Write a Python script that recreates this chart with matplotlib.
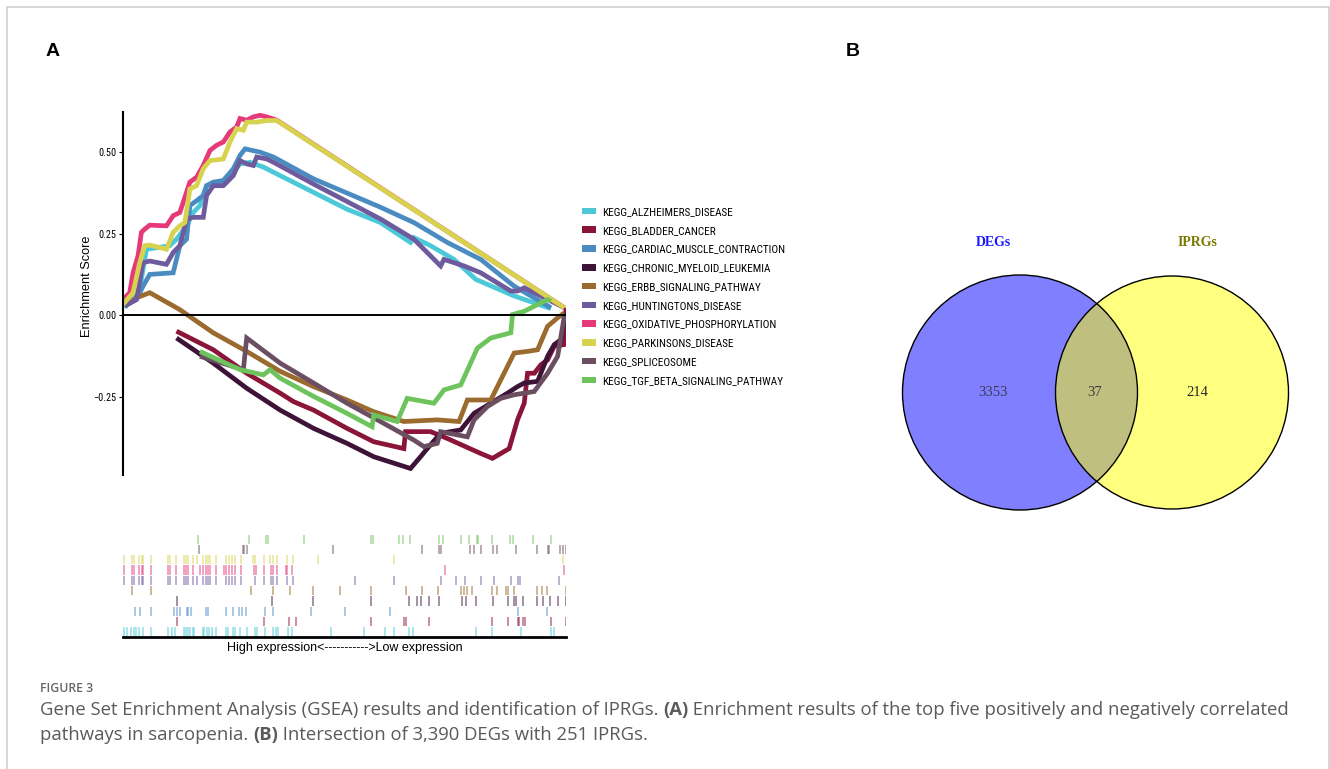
import matplotlib
matplotlib.use("Agg")
import matplotlib.pyplot as plt
from matplotlib import font_manager
from matplotlib.font_manager import FontProperties
from matplotlib.patches import Patch, Circle, Rectangle

W, H = 1330, 769

SANS = "Liberation Sans"
SERIF = "Liberation Serif"
CAPTION = "Open Sans"


def pick_narrow():
    # a condensed regular face if one is installed, else plain Liberation Sans
    faces = font_manager.fontManager.ttflist
    prefs = ["Liberation Sans Narrow", "Roboto Condensed", "Open Sans Condensed",
             "Noto Sans", "DejaVu Sans", "Roboto", "Open Sans"]
    for name in prefs:
        for f in faces:
            if f.name == name and f.style == "normal" and f.weight in (400, "normal", "regular") \
                    and (f.stretch in ("condensed", "semi-condensed") or name.endswith(("Narrow", "Condensed"))):
                return FontProperties(fname=f.fname)
    return FontProperties(family=SANS)


NARROW_FP = pick_narrow()

# --- GSEA running enrichment score curves (rank position, ES) ---
pathways = [
    "KEGG_ALZHEIMERS_DISEASE", "KEGG_BLADDER_CANCER", "KEGG_CARDIAC_MUSCLE_CONTRACTION",
    "KEGG_CHRONIC_MYELOID_LEUKEMIA", "KEGG_ERBB_SIGNALING_PATHWAY", "KEGG_HUNTINGTONS_DISEASE",
    "KEGG_OXIDATIVE_PHOSPHORYLATION", "KEGG_PARKINSONS_DISEASE", "KEGG_SPLICEOSOME",
    "KEGG_TGF_BETA_SIGNALING_PATHWAY",
]
colors = ["#4CC9D9", "#8B1538", "#4A8CC2", "#3D1438", "#9A6A2E",
          "#6E5B9E", "#E5397A", "#D8D34E", "#6B4E62", "#6DC45C"]
N_RANKED = 1325

alz_x = [5, 50, 70, 140, 160, 190, 210, 230, 250, 300, 330, 350, 380, 420, 470, 670, 770,
         860, 870, 920, 990, 1055, 1170, 1280]
alz_y = [0.023, 0.079, 0.202, 0.213, 0.233, 0.274, 0.315, 0.336, 0.397, 0.408, 0.438, 0.464,
         0.469, 0.454, 0.428, 0.325, 0.284, 0.223, 0.238, 0.213, 0.171, 0.110, 0.059, 0.020]
bla_x = [160, 270, 370, 470, 510, 570, 670, 750, 840, 845, 920, 970, 1070, 1105, 1155, 1180,
         1200, 1210, 1230, 1250, 1270, 1290, 1320, 1325]
bla_y = [-0.049, -0.106, -0.178, -0.239, -0.265, -0.291, -0.347, -0.388, -0.409, -0.357,
         -0.357, -0.378, -0.424, -0.439, -0.409, -0.321, -0.270, -0.178, -0.178, -0.152,
         -0.137, -0.095, -0.090, 0.023]
car_x = [5, 40, 60, 80, 150, 170, 190, 200, 220, 240, 250, 270, 300, 330, 350, 365, 410, 450,
         570, 770, 870, 970, 1070, 1170, 1220, 1280]
car_y = [0.028, 0.048, 0.089, 0.125, 0.130, 0.213, 0.233, 0.336, 0.351, 0.367, 0.397, 0.408,
         0.413, 0.449, 0.490, 0.510, 0.500, 0.485, 0.418, 0.331, 0.284, 0.223, 0.171, 0.089,
         0.059, 0.023]
cml_x = [160, 270, 370, 470, 570, 670, 750, 860, 890, 910, 950, 1010, 1050, 1100, 1150, 1180,
         1200, 1240, 1270, 1290, 1310, 1325]
cml_y = [-0.070, -0.147, -0.224, -0.291, -0.347, -0.393, -0.434, -0.470, -0.434, -0.409,
         -0.362, -0.352, -0.301, -0.270, -0.239, -0.219, -0.208, -0.203, -0.126, -0.090,
         -0.075, 0.007]
erb_x = [5, 40, 80, 170, 270, 370, 470, 570, 670, 750, 840, 940, 1005, 1030, 1060, 1100, 1130,
         1170, 1210, 1240, 1270, 1300, 1320]
erb_y = [0.028, 0.053, 0.069, 0.017, -0.054, -0.111, -0.172, -0.219, -0.260, -0.296, -0.326,
         -0.321, -0.326, -0.260, -0.260, -0.260, -0.198, -0.116, -0.111, -0.106, -0.034,
         -0.008, 0.007]
hun_x = [5, 40, 60, 80, 130, 150, 170, 190, 210, 240, 250, 270, 300, 330, 350, 370, 390, 400,
         430, 450, 570, 770, 870, 950, 960, 1020, 1070, 1160, 1180, 1200, 1320]
hun_y = [0.028, 0.048, 0.161, 0.166, 0.156, 0.192, 0.213, 0.295, 0.300, 0.300, 0.367, 0.397,
         0.397, 0.428, 0.474, 0.464, 0.459, 0.485, 0.479, 0.469, 0.402, 0.295, 0.233, 0.151,
         0.171, 0.151, 0.130, 0.074, 0.074, 0.084, 0.023]
oxp_x = [0, 20, 30, 45, 55, 65, 80, 130, 150, 170, 180, 200, 220, 240, 260, 280, 300, 320, 340,
         350, 370, 390, 410, 430, 460, 1320]
oxp_y = [0.048, 0.069, 0.130, 0.182, 0.254, 0.264, 0.276, 0.274, 0.305, 0.315, 0.346, 0.408,
         0.423, 0.459, 0.505, 0.521, 0.531, 0.562, 0.577, 0.603, 0.598, 0.608, 0.613, 0.608,
         0.598, 0.023]
par_x = [0, 30, 50, 65, 80, 130, 150, 170, 185, 200, 220, 240, 260, 300, 320, 340, 360, 370,
         400, 430, 460, 1320]
par_y = [0.033, 0.069, 0.161, 0.213, 0.215, 0.202, 0.254, 0.274, 0.284, 0.387, 0.397, 0.449,
         0.474, 0.479, 0.531, 0.572, 0.567, 0.592, 0.592, 0.597, 0.597, 0.023]
spl_x = [230, 360, 370, 470, 570, 670, 770, 870, 900, 940, 950, 1030, 1050, 1090, 1130, 1170,
         1230, 1270, 1300, 1320]
spl_y = [-0.126, -0.167, -0.070, -0.147, -0.208, -0.270, -0.326, -0.383, -0.403, -0.393,
         -0.357, -0.373, -0.321, -0.280, -0.255, -0.244, -0.234, -0.178, -0.126, -0.003]
tgf_x = [230, 350, 420, 440, 470, 570, 670, 745, 750, 820, 850, 930, 960, 1010, 1060, 1100,
         1160, 1165, 1200, 1270, 1280]
tgf_y = [-0.111, -0.167, -0.183, -0.167, -0.193, -0.249, -0.301, -0.342, -0.306, -0.326,
         -0.255, -0.270, -0.229, -0.214, -0.101, -0.070, -0.054, 0.002, 0.012, 0.048, 0.043]

curves_x = [alz_x, bla_x, car_x, cml_x, erb_x, hun_x, oxp_x, par_x, spl_x, tgf_x]
curves_y = [alz_y, bla_y, car_y, cml_y, erb_y, hun_y, oxp_y, par_y, spl_y, tgf_y]

# --- hit positions for the rug (top row first) ---
rug_order = [9, 8, 7, 6, 5, 4, 3, 2, 1, 0]
hits = {
    9: [223, 377, 427, 435, 540, 742, 747, 827, 837, 857, 945, 957, 1010, 1035, 1058, 1063,
        1105, 1158, 1165, 1225, 1280],
    8: [228, 358, 363, 370, 627, 895, 945, 952, 1037, 1050, 1070, 1107, 1120, 1175, 1237, 1270,
        1275, 1308, 1315, 1325],
    7: [2, 27, 33, 47, 57, 60, 85, 135, 142, 158, 183, 188, 195, 208, 220, 240, 248, 253, 260,
        277, 308, 318, 327, 335, 352, 390, 395, 423, 440, 448, 462, 492, 507, 582, 810, 1315],
    6: [3, 27, 33, 47, 57, 60, 85, 135, 142, 158, 183, 188, 195, 208, 230, 240, 248, 253, 260,
        277, 302, 308, 318, 327, 335, 352, 392, 397, 423, 442, 448, 462, 487, 492, 505, 963, 1320],
    5: [2, 27, 33, 47, 57, 60, 85, 135, 142, 158, 183, 188, 195, 208, 220, 240, 248, 253, 260,
        277, 308, 318, 327, 335, 352, 395, 423, 442, 448, 462, 492, 507, 693, 810, 950, 997,
        1022, 1070, 1110, 1160, 1180, 1188, 1305],
    4: [27, 85, 382, 448, 500, 568, 650, 742, 847, 895, 943, 1010, 1020, 1028, 1043, 1105, 1118,
        1145, 1152, 1170, 1238, 1252, 1268, 1325],
    3: [162, 447, 568, 742, 855, 880, 892, 915, 945, 1015, 1025, 1057, 1108, 1152, 1170, 1175,
        1195, 1238, 1255, 1278, 1302, 1325],
    2: [35, 50, 85, 152, 162, 170, 190, 195, 203, 248, 255, 308, 330, 348, 355, 367, 425, 450,
        562, 663, 798, 1180, 1268],
    1: [162, 422, 497, 517, 742, 840, 847, 915, 1105, 1152, 1180, 1185, 1195, 1203, 1280, 1325],
    0: [2, 13, 25, 33, 40, 48, 60, 85, 135, 147, 155, 183, 188, 193, 200, 208, 213, 238, 243,
        250, 258, 265, 277, 308, 313, 328, 335, 350, 370, 395, 400, 425, 450, 458, 465, 495,
        505, 623, 720, 783, 810, 855, 867, 1057, 1105, 1190, 1280, 1290],
}

# --- Venn counts ---
venn_sets = ["DEGs", "IPRGs"]
venn_counts = [3353, 37, 214]  # DEGs only, both, IPRGs only

caption_1 = [
    ("Gene Set Enrichment Analysis (GSEA) results and identification of IPRGs. ", "normal"),
    ("(A)", "bold"),
    (" Enrichment results of the top five positively and negatively correlated", "normal"),
]
caption_2 = [
    ("pathways in sarcopenia. ", "normal"),
    ("(B)", "bold"),
    (" Intersection of 3,390 DEGs with 251 IPRGs.", "normal"),
]


def fx(px):
    return px / W


def fy(py):
    return 1 - py / H


fig = plt.figure(figsize=(W / 100, H / 100), dpi=100)
renderer = fig.canvas.get_renderer()


def text_width(s, fp):
    t = fig.text(0, 0, s, fontproperties=fp)
    w = t.get_window_extent(renderer).width
    t.remove()
    return w


def fit_fp(base_fp, sample, target_px, size0=8.0):
    fp = base_fp.copy()
    fp.set_size(size0)
    fp.set_size(size0 * target_px / text_width(sample, fp))
    return fp


legend_fp = fit_fp(NARROW_FP, "KEGG_CARDIAC_MUSCLE_CONTRACTION", 184)
tick_fp = fit_fp(NARROW_FP, "0.50", 18)

# outer frame
fig.add_artist(Rectangle((fx(7), fy(790)), fx(1329) - fx(7), fy(7) - fy(790),
                         transform=fig.transFigure, fill=False, ec="#cfcfcf", lw=1.2))

fig.text(fx(53), fy(52), "A", fontsize=14, weight="bold", family=SANS, ha="center", va="center")
fig.text(fx(853), fy(52), "B", fontsize=14, weight="bold", family=SANS, ha="center", va="center")

# --- panel A: running ES ---
ax = fig.add_axes([fx(123), fy(475), fx(566) - fx(123), fy(112) - fy(475)])
for xs, ys, c in zip(curves_x, curves_y, colors):
    ax.plot(xs, ys, color=c, lw=3.4, solid_joinstyle="miter", solid_capstyle="butt")
ax.axhline(0, color="black", lw=1.4, zorder=5)
ax.set_xlim(0, N_RANKED)
ax.set_ylim(-0.49, 0.623)
ax.set_yticks([-0.25, 0, 0.25, 0.5])
ax.set_yticklabels(["\u22120.25", "0.00", "0.25", "0.50"], fontproperties=tick_fp)
ax.tick_params(axis="y", length=3, width=0.8, pad=1.5)
ax.set_xticks([])
for s in ["top", "right", "bottom"]:
    ax.spines[s].set_visible(False)
ax.spines["left"].set_linewidth(1.5)
ax.set_ylabel("Enrichment Score", family=SANS, fontsize=9.2)
ax.yaxis.set_label_coords((93 - 123) / 443, 0.52)

handles = [Patch(facecolor=c, edgecolor="none") for c in colors]
hs = legend_fp.get_size_in_points() * 100 / 72
fig.legend(handles, pathways, loc="upper left", bbox_to_anchor=(fx(582), fy(207)),
           frameon=False, prop=legend_fp, handlelength=14 / hs,
           handleheight=6 / hs, handletextpad=6 / hs,
           labelspacing=0.78, borderaxespad=0, borderpad=0)

# --- rug of hit positions ---
rug = fig.add_axes([fx(123), fy(637), fx(566) - fx(123), fy(534) - fy(637)])
for row, idx in enumerate(rug_order):
    base = 9 - row
    rug.vlines(hits[idx], base + 0.05, base + 0.95, color=colors[idx], lw=1.1, alpha=0.6)
rug.set_xlim(0, N_RANKED)
rug.set_ylim(0, 10)
rug.set_xticks([])
rug.set_yticks([])
for s in ["top", "right", "left"]:
    rug.spines[s].set_visible(False)
rug.spines["bottom"].set_linewidth(2)
fig.text(fx(345), fy(648), "High expression<----------->Low expression", family=SANS,
         fontsize=9.0, ha="center", va="center")

# --- panel B: Venn ---
vx = fig.add_axes([fx(890), fy(525), fx(1310) - fx(890), fy(225) - fy(525)])
vx.set_xlim(890, 1310)
vx.set_ylim(525, 225)
vx.axis("off")
centers = [(1020, 392.5), (1172, 392.5)]
radii = [117.5, 116.5]
fills = [(0, 0, 1, 0.5), (1, 1, 0, 0.5)]
for c, r, f in zip(centers, radii, fills):
    vx.add_patch(Circle(c, r, facecolor=f, edgecolor="none"))
for c, r in zip(centers, radii):
    vx.add_patch(Circle(c, r, fill=False, edgecolor="black", lw=1.0))
vx.text(993, 243, venn_sets[0], color="#1a1aff", family=SERIF, weight="bold", fontsize=10,
        ha="center", va="center")
vx.text(1197, 243, venn_sets[1], color="#7a7a00", family=SERIF, weight="bold", fontsize=10,
        ha="center", va="center")
for xpos, n, col in zip([993, 1095, 1197], venn_counts, ["#3a3a58", "#3a3a3a", "#2a2a2a"]):
    vx.text(xpos, 393, str(n), color=col, family=SERIF, fontsize=10.5, ha="center", va="center")


# --- caption ---
def cap_fp(weight, size):
    return FontProperties(family=CAPTION, weight=weight, size=size)


def runs_width(runs, size):
    return sum(text_width(t, cap_fp(w, size)) for t, w in runs)


cap_size = 11 * 1248 / runs_width(caption_1, 11)


def draw_runs(x_px, y_px, runs):
    x = x_px
    for txt, weight in runs:
        t = fig.text(fx(x), fy(y_px), txt, fontproperties=cap_fp(weight, cap_size),
                     color="#5a5a5a", ha="left", va="center")
        x += t.get_window_extent(renderer).width


fig.text(fx(40), fy(689), "FIGURE 3", family=CAPTION, weight="semibold", fontsize=8.8,
         color="#666666", ha="left", va="center")
draw_runs(40, 710, caption_1)
draw_runs(40, 735, caption_2)

fig.savefig("out.png", dpi=100)
